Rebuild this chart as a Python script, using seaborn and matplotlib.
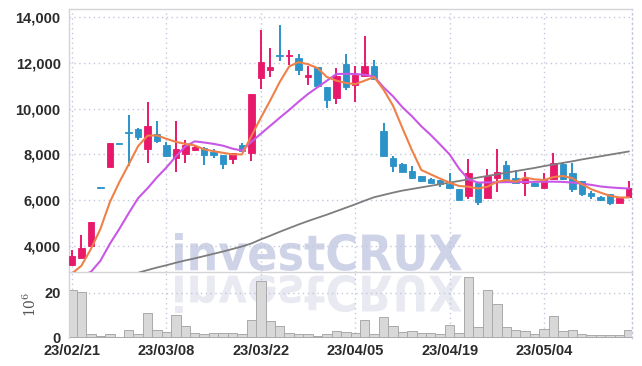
import matplotlib
matplotlib.use("Agg")
import matplotlib.pyplot as plt
import seaborn as sns
import numpy as np
from matplotlib.textpath import TextPath
from matplotlib.patches import PathPatch
from matplotlib.font_manager import FontProperties
from matplotlib.transforms import Affine2D
from matplotlib.ticker import FuncFormatter

# 거래일 (KRX)
dates = [
    "23/02/21", "23/02/22", "23/02/23", "23/02/24", "23/02/27", "23/02/28",
    "23/03/02", "23/03/03", "23/03/06", "23/03/07", "23/03/08", "23/03/09",
    "23/03/10", "23/03/13", "23/03/14", "23/03/15", "23/03/16", "23/03/17",
    "23/03/20", "23/03/21", "23/03/22", "23/03/23", "23/03/24", "23/03/27",
    "23/03/28", "23/03/29", "23/03/30", "23/03/31", "23/04/03", "23/04/04",
    "23/04/05", "23/04/06", "23/04/07", "23/04/10", "23/04/11", "23/04/12",
    "23/04/13", "23/04/14", "23/04/17", "23/04/18", "23/04/19", "23/04/20",
    "23/04/21", "23/04/24", "23/04/25", "23/04/26", "23/04/27", "23/04/28",
    "23/05/02", "23/05/03", "23/05/04", "23/05/08", "23/05/09", "23/05/10",
    "23/05/11", "23/05/12", "23/05/15", "23/05/16", "23/05/17", "23/05/18",
]
tick_labels = ["23/02/21", "23/03/08", "23/03/22", "23/04/05", "23/04/19", "23/05/04"]

opens = [3190, 3490, 4010, 6560, 7450, 8470, 8980, 9130, 8220, 8910,
         8390, 7860, 8030, 8190, 8290, 8100, 7960, 7780, 8390, 8070,
         11330, 11670, 12350, 12280, 12230, 11380, 11810, 10960, 10460, 11960,
         11040, 11430, 11870, 9010, 7830, 7580, 7260, 7040, 6940, 6880,
         6700, 6480, 6190, 6770, 6100, 6970, 7520, 6960, 6770, 6770,
         6520, 6910, 7570, 7170, 6840, 6300, 6130, 6250, 5860, 6140]
closes = [3580, 3910, 5040, 6540, 8480, 8450, 8940, 8780, 9220, 8580,
          7930, 8220, 8400, 8330, 7960, 7990, 7570, 8070, 8170, 10650,
          12030, 11830, 12280, 12310, 11700, 11480, 10970, 10360, 11430, 10940,
          11480, 11870, 11300, 7930, 7490, 7230, 6970, 6840, 6770, 6700,
          6520, 6010, 7170, 5930, 7060, 7250, 6840, 6770, 6960, 6600,
          6880, 7610, 6910, 6480, 6290, 6190, 6010, 5870, 6090, 6520]
highs = [3830, 4480, 5040, 6560, 8480, 8470, 9740, 9140, 10290, 9450,
         8550, 9450, 8620, 8400, 8330, 8220, 7960, 8070, 8510, 10650,
         13420, 12640, 13650, 12570, 12380, 11840, 11810, 10960, 11770, 12380,
         11870, 13190, 12130, 9380, 7930, 7640, 7490, 7060, 6990, 6880,
         7200, 6480, 7810, 6770, 7380, 8250, 7710, 7320, 7230, 6770,
         7200, 8070, 7650, 7610, 6840, 6410, 6170, 6250, 6150, 6840]
lows = [3140, 3460, 4000, 6540, 7450, 8450, 7490, 8610, 7610, 8520,
        7870, 7220, 7610, 8150, 7520, 7840, 7350, 7600, 8140, 7710,
        10870, 11380, 12100, 11910, 11480, 11040, 10970, 10030, 10200, 10800,
        10290, 11430, 11300, 7930, 7250, 7230, 6910, 6800, 6740, 6590,
        6500, 6010, 6040, 5800, 6100, 6360, 6770, 6740, 6190, 6600,
        6520, 6910, 6880, 6370, 6190, 6040, 5950, 5780, 5860, 6140]

ma5 = [2800, 3140, 3870, 4740, 5910, 6780, 7560, 8360, 8820, 8830,
       8680, 8550, 8460, 8390, 8220, 8140, 8070, 8000, 8000, 8800,
       9600, 10360, 11160, 11840, 12030, 11940, 11770, 11380, 11220, 11120,
       11070, 11220, 11380, 10830, 10130, 9150, 8190, 7320, 7130, 6940,
       6770, 6620, 6590, 6510, 6590, 6800, 6880, 6810, 6990, 6910,
       6880, 7010, 7060, 6960, 6700, 6480, 6330, 6190, 6120, 6120]
ma20 = [2500, 2700, 2870, 3350, 4090, 4740, 5430, 6090, 6520, 7000,
        7430, 7910, 8350, 8570, 8520, 8460, 8380, 8250, 8170, 8550,
        8900, 9250, 9600, 9940, 10300, 10640, 10930, 11220, 11510, 11520,
        11510, 11480, 11400, 10930, 10540, 10060, 9670, 9230, 8850, 8430,
        8000, 7380, 6910, 6770, 6780, 6780, 6790, 6790, 6800, 6800,
        6810, 6810, 6800, 6770, 6720, 6670, 6600, 6560, 6530, 6510]
ma60 = [2100, 2200, 2300, 2400, 2500, 2610, 2720, 2830, 2950, 3060,
        3160, 3270, 3370, 3460, 3560, 3660, 3760, 3870, 3980, 4110,
        4290, 4450, 4620, 4780, 4940, 5090, 5230, 5370, 5520, 5670,
        5820, 5980, 6130, 6230, 6330, 6420, 6490, 6560, 6630, 6700,
        6770, 6840, 6910, 6990, 7060, 7130, 7200, 7270, 7340, 7410,
        7490, 7560, 7630, 7700, 7780, 7850, 7920, 7990, 8060, 8130]

# 거래량 (백만 주)
volumes = [21.2, 20.3, 1.3, 0.4, 1.3, 0.2, 3.1, 1.5, 10.8, 3.1,
           2.4, 9.9, 4.9, 1.8, 1.3, 1.8, 1.8, 1.8, 1.3, 7.6,
           25.1, 7.2, 4.9, 1.8, 1.3, 1.3, 0.7, 1.3, 2.8, 2.4,
           1.9, 7.8, 1.3, 9.0, 5.1, 2.4, 2.8, 1.9, 1.9, 1.3,
           5.4, 1.9, 26.9, 4.6, 21.2, 14.9, 4.6, 3.1, 2.8, 1.5,
           3.7, 9.4, 2.8, 3.1, 1.3, 0.9, 0.9, 0.9, 0.9, 3.1]

UP = "#e8196a"
DOWN = "#2b93c8"
GRID = "#c3c7dc"
SPINE = "#d4d4d8"
TEXT = "#2b2b2b"

sns.set_theme(style="white")
plt.rcParams["font.family"] = ["Liberation Sans", "DejaVu Sans"]
plt.rcParams["mathtext.fontset"] = "dejavuserif"

W, H = 642, 366
fig = plt.figure(figsize=(W / 100, H / 100), dpi=100)
fig.patch.set_facecolor("white")

ax = fig.add_axes([69 / W, 1 - 272 / H, (632 - 69) / W, (272 - 9) / H])
axv = fig.add_axes([69 / W, 1 - 337.5 / H, (632 - 69) / W, (337.5 - 272) / H], sharex=ax)
for a in (ax, axv):
    a.set_facecolor("none")

idx = np.arange(len(dates))
o = np.array(opens, dtype=float)
c = np.array(closes, dtype=float)
up = c >= o
colors = np.where(up, UP, DOWN)

# 캔들
ax.vlines(idx, lows, highs, colors=colors, linewidth=1.4, zorder=2)
body_bottom = np.minimum(o, c)
body_h = np.maximum(np.abs(c - o), 40)
ax.bar(idx, body_h, bottom=body_bottom, width=0.68, color=colors,
       edgecolor=colors, linewidth=0.6, zorder=3)

# 이동평균선
sns.lineplot(x=idx, y=ma60, ax=ax, color="#7d7d7d", linewidth=1.3, zorder=4)
sns.lineplot(x=idx, y=ma20, ax=ax, color="#c957e6", linewidth=1.5, zorder=5)
sns.lineplot(x=idx, y=ma5, ax=ax, color="#ef8048", linewidth=1.5, zorder=6)

# 거래량
sns.barplot(x=idx, y=volumes, ax=axv, native_scale=True, errorbar=None,
            color="#d8d8d8", edgecolor="#a9a9a9", linewidth=0.7, width=1.0,
            saturation=1, zorder=2)

tick_pos = [dates.index(t) for t in tick_labels]
ax.set_xlim(-0.32, 59.32)
ax.set_ylim(2865, 14350)
ax.set_yticks([4000, 6000, 8000, 10000, 12000, 14000])
ax.yaxis.set_major_formatter(FuncFormatter(lambda v, p: f"{int(v):,}"))
axv.set_ylim(-0.15, 29.3)
axv.set_yticks([0, 20])
axv.set_xticks(tick_pos)
axv.set_xticklabels(tick_labels)
plt.setp(ax.get_xticklabels(), visible=False)

for a in (ax, axv):
    a.grid(True, which="major", linestyle=(0, (1, 2.5)), color=GRID, linewidth=1.0)
    a.set_axisbelow(True)
    a.tick_params(length=0, labelsize=10.5, labelcolor=TEXT, pad=6)
    for lab in a.get_yticklabels() + a.get_xticklabels():
        lab.set_fontweight("bold")
    a.set_xlabel("")
    a.set_ylabel("")
    for s in a.spines.values():
        s.set_color(SPINE)
        s.set_linewidth(1.0)
    a.spines["right"].set_linestyle((0, (1, 2.5)))
    a.spines["right"].set_color(GRID)

axv.spines["bottom"].set_visible(False)
axv.spines["top"].set_visible(False)
axv.tick_params(axis="x", pad=5)
axv.set_ylabel(r"$10^6$", fontsize=10, color="#555555", labelpad=4)

# 워터마크
fp = FontProperties(family="DejaVu Sans", weight="bold")
tp = TextPath((0, 0), "investCRUX", size=60, prop=fp)
bb = tp.get_extents()
x0, x1 = 175, 462
sx = (x1 - x0) / bb.width
sy = (271 - 233) / bb.height
t_top = Affine2D().translate(-bb.x0, -bb.y0).scale(sx, sy).translate(x0, H - 271)
fig.add_artist(PathPatch(tp, transform=t_top, facecolor="#c6cce4",
                         edgecolor="none", zorder=-1, alpha=0.85))
t_ref = Affine2D().translate(-bb.x0, -bb.y0).scale(sx, -sy).translate(x0, H - 275)
fig.add_artist(PathPatch(tp, transform=t_ref, facecolor="#e4e6ef",
                         edgecolor="none", zorder=-1, alpha=0.85))

fig.savefig("out.png", dpi=100)
